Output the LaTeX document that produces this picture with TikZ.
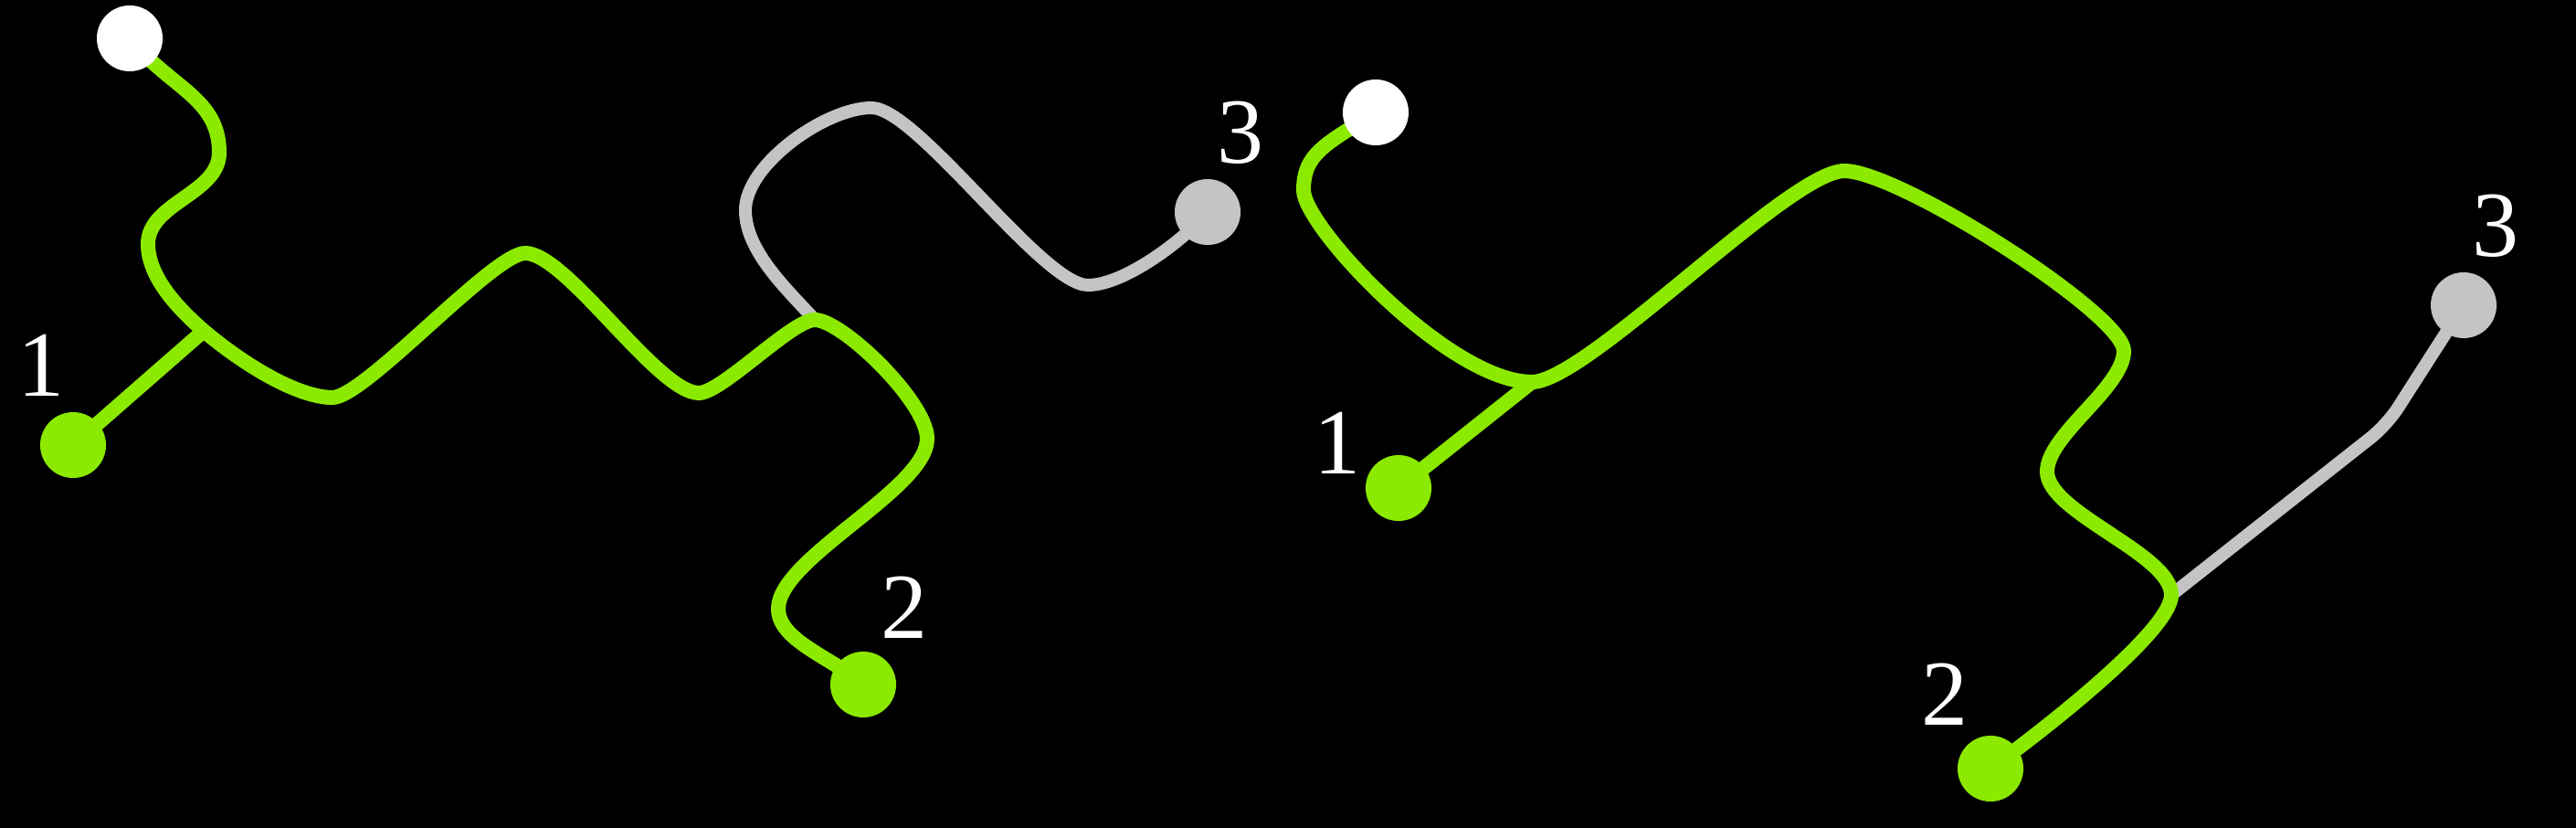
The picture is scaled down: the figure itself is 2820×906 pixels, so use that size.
\documentclass[tikz,border=0pt]{standalone}
\usepackage{fontspec}
\setmainfont{Liberation Serif}
\definecolor{lime}{RGB}{139,234,0}
\definecolor{lgray}{RGB}{196,196,196}
\pgfdeclarelayer{bg}
\pgfdeclarelayer{lines}
\pgfsetlayers{bg,lines,main}
\begin{document}
\begin{tikzpicture}[x=0.01cm,y=-0.01cm,
  dot/.style={circle,minimum size=0.72cm,inner sep=0pt,draw=none},
  gwire/.style={draw=lime,line width=0.16cm},
  swire/.style={draw=lgray,line width=0.14cm},
  num/.style={text=white,font=\fontsize{29}{31}\selectfont,inner sep=0pt}]
\begin{pgfonlayer}{bg}
\fill[black] (0,0) rectangle (2820,906);
\end{pgfonlayer}
\useasboundingbox (0,0) rectangle (2820,906);

% ---------- left figure ----------
\node[dot,fill=white] (w1) at (142,42) {};
\node[dot,fill=lime] (a1) at (80,487) {};
\node[dot,fill=lime] (b1) at (945,749) {};
\node[dot,fill=lgray] (c1) at (1322,232) {};
\coordinate (p1) at (240,167);
\coordinate (p2) at (162,267);
\coordinate (j1) at (223,362);
\coordinate (p3) at (364,435);
\coordinate (p4) at (575,277);
\coordinate (p5) at (765,430);
\coordinate (p6) at (892,350);
\coordinate (p7) at (1015,480);
\coordinate (p8) at (852,666);
\coordinate (g1) at (816,230);
\coordinate (g2) at (954,118);
\coordinate (g3) at (1191,312);

\node[num] (l1) at (45,400) {1};
\node[num] (l2) at (990,665) {2};
\node[num] (l3) at (1358,145) {3};

% ---------- right figure ----------
\node[dot,fill=white] (w2) at (1506,123) {};
\node[dot,fill=lime] (a2) at (1531,534) {};
\node[dot,fill=lime] (b2) at (2179,841) {};
\node[dot,fill=lgray] (c2) at (2697,334) {};
\coordinate (q1) at (1427,208);
\coordinate (j2) at (1677,418);
\coordinate (q2) at (2019,187);
\coordinate (q3) at (2325,384);
\coordinate (q4) at (2241,516);
\coordinate (q5) at (2377,651);
\coordinate (k2) at (2613,465);

\node[num] (m1) at (1464,485) {1};
\node[num] (m2) at (2129,760) {2};
\node[num] (m3) at (2732,247) {3};

\begin{pgfonlayer}{lines}
% left
\draw[swire] (p6) .. controls +(-30,-33) and +(0,45) .. (g1)
  .. controls +(0,-50) and +(-50,0) .. (g2)
  .. controls +(50,0) and +(-50,0) .. (g3)
  .. controls +(40,0) and +(-25,30) .. (c1.center);
\draw[gwire] (w1.center) .. controls +(45,55) and +(0,-60) .. (p1)
  .. controls +(0,45) and +(0,-45) .. (p2)
  .. controls +(0,35) and +(-30,-26) .. (j1)
  .. controls +(50,42) and +(-35,0) .. (p3)
  .. controls +(35,0) and +(-35,0) .. (p4)
  .. controls +(45,0) and +(-45,0) .. (p5)
  .. controls +(25,0) and +(-25,0) .. (p6)
  .. controls +(30,0) and +(0,-40) .. (p7)
  .. controls +(0,55) and +(0,-55) .. (p8)
  .. controls +(0,35) and +(-35,-30) .. (b1.center);
\draw[gwire] (j1) -- (a1.center);
% right
\draw[swire,rounded corners=0.22cm] (q5) -- (k2) -- (c2.center);
\draw[gwire] (w2.center) .. controls +(-55,35) and +(0,-40) .. (q1)
  .. controls +(0,40) and +(-90,0) .. (j2)
  .. controls +(60,0) and +(-60,0) .. (q2)
  .. controls +(60,0) and +(0,-40) .. (q3)
  .. controls +(0,40) and +(0,-40) .. (q4)
  .. controls +(0,45) and +(0,-45) .. (q5)
  .. controls +(0,40) and +(50,-36) .. (b2.center);
\draw[gwire] (j2) -- (a2.center);
\end{pgfonlayer}
\end{tikzpicture}
\end{document}
